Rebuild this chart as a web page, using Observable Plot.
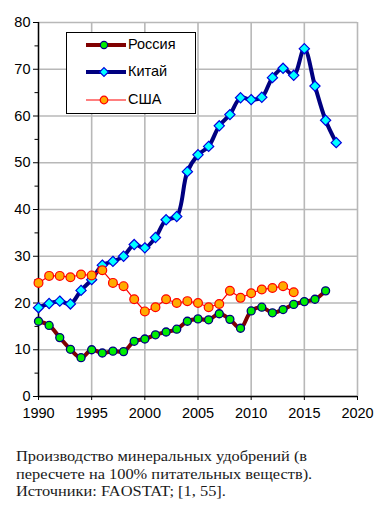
<!DOCTYPE html>
<html><head><meta charset="utf-8">
<script src="https://cdn.jsdelivr.net/npm/d3@7"></script>
<script src="https://cdn.jsdelivr.net/npm/@observablehq/plot@0.6"></script>
<style>
body{margin:0;background:#fff;width:391px;height:517px;overflow:hidden;position:relative;font-family:"Liberation Sans",Arial,sans-serif;}
#chart{position:absolute;left:0;top:0;}
#legend{position:absolute;left:66px;top:32px;width:128px;height:80px;border:1.5px solid #000;background:#fff;}
.row{position:absolute;left:0;height:20px;width:128px;}
.row svg{position:absolute;left:18px;top:0;}
.row span{position:absolute;left:61px;top:1px;font-size:14.5px;color:#000;}
#caption{position:absolute;left:16px;top:448px;font-family:"Liberation Serif","Times New Roman",serif;font-size:14.5px;line-height:17.6px;color:#1a1a1a;white-space:nowrap;transform:scaleX(1.13);transform-origin:0 0;}
</style></head>
<body>
<div id="chart"></div>
<div id="legend"></div>
<div id="caption">Производство минеральных удобрений (в<br>пересчете на 100% питательных веществ).<br>Источники: FAOSTAT; [1, 55].</div>
<script>
const russiaYears = d3.range(1990, 2018);
const russia = [16.1,15.2,12.6,10.1,8.3,10.0,9.3,9.7,9.6,11.8,12.3,13.2,13.8,14.4,16.1,16.6,16.4,17.7,16.5,14.6,18.3,19.1,17.9,18.6,19.7,20.3,20.8,22.6];
const chinaYears = d3.range(1990, 2019);
const china = [19.0,19.9,20.4,19.8,22.7,25.0,28.1,28.9,30.0,32.5,31.8,34.0,37.8,38.5,48.1,51.7,53.5,57.9,60.3,63.9,63.5,64.0,68.2,70.2,68.7,74.4,66.4,59.1,54.3];
const usaYears = d3.range(1990, 2015);
const usa = [24.3,25.8,25.8,25.5,26.1,25.9,27.0,24.3,23.6,20.8,18.2,19.1,20.8,20.0,20.4,20.0,19.1,19.8,22.6,21.1,22.1,22.9,23.2,23.6,22.3];
const seriesNames = ["Россия","Китай","США"];
const xTicks = [1990,1995,2000,2005,2010,2015,2020];
const yTicks = [0,10,20,30,40,50,60,70,80];
const yMinor = [5,15,25,35,45,55,65,75];

const R = russiaYears.map((x,i)=>({x, y: russia[i]}));
const C = chinaYears.map((x,i)=>({x, y: china[i]}));
const U = usaYears.map((x,i)=>({x, y: usa[i]}));

const styles = {
  "Россия": {line:"#800000", lw:4, fill:"#00ee00", stroke:"#000080", symbol:"circle", r:3.6},
  "Китай": {line:"#000080", lw:4, fill:"#00ffff", stroke:"#0000dd", symbol:"diamond2", r:4},
  "США": {line:"#ff0000", lw:1.2, fill:"#ffaa00", stroke:"#ff0000", symbol:"circle", r:3.8}
};

const plot = Plot.plot({
  width: 391, height: 430,
  marginLeft: 38, marginRight: 34, marginTop: 22, marginBottom: 34,
  style: {fontFamily: '"Liberation Sans", Arial, sans-serif', fontSize: "14px", color: "#000", background: "#fff"},
  x: {domain: [1990, 2020]},
  y: {domain: [0, 80]},
  marks: [
    Plot.gridX(xTicks, {stroke: "#b8b8b8", strokeOpacity: 1, strokeWidth: 1.6}),
    Plot.gridY(yTicks, {stroke: "#b8b8b8", strokeOpacity: 1, strokeWidth: 1.6}),
    Plot.axisY(yMinor, {tickSize: 3.5, tickFormat: () => "", stroke: "#000", label: null}),
    Plot.axisY(yTicks, {tickSize: 5, tickPadding: 3, stroke: "#000", label: null, fontSize: 14.5}),
    Plot.axisX(xTicks, {tickSize: 4, tickPadding: 7, tickFormat: d => String(d), stroke: "#000", label: null, fontSize: 14.5}),
    Plot.ruleX([1990], {stroke: "#000", strokeWidth: 1.4}),
    Plot.ruleY([0], {stroke: "#000", strokeWidth: 1.4}),
    Plot.line(R, {x: "x", y: "y", stroke: styles["Россия"].line, strokeWidth: 4, curve: "catmull-rom"}),
    Plot.dot(R, {x: "x", y: "y", r: 4, fill: styles["Россия"].fill, stroke: styles["Россия"].stroke, strokeWidth: 1.3}),
    Plot.line(C, {x: "x", y: "y", stroke: styles["Китай"].line, strokeWidth: 4, curve: "catmull-rom"}),
    Plot.dot(C, {x: "x", y: "y", r: 4.6, symbol: "diamond2", fill: styles["Китай"].fill, stroke: styles["Китай"].stroke, strokeWidth: 1.2}),
    Plot.line(U, {x: "x", y: "y", stroke: styles["США"].line, strokeWidth: 1.2}),
    Plot.dot(U, {x: "x", y: "y", r: 4.4, fill: styles["США"].fill, stroke: styles["США"].stroke, strokeWidth: 1.2})
  ]
});
document.getElementById("chart").appendChild(plot);

// legend
const leg = document.getElementById("legend");
const rowTops = [2, 29, 57];
seriesNames.forEach((name, i) => {
  const s = styles[name];
  const row = document.createElement("div");
  row.className = "row";
  row.style.top = rowTops[i] + "px";
  const svg = d3.create("svg").attr("width", 42).attr("height", 20);
  svg.append("line").attr("x1", 1).attr("x2", 41).attr("y1", 10).attr("y2", 10)
    .attr("stroke", s.line).attr("stroke-width", s.lw);
  const sym = d3.symbol(s.symbol === "diamond2" ? d3.symbolDiamond2 : d3.symbolCircle, Math.PI * s.r * s.r);
  svg.append("path").attr("d", sym()).attr("transform", "translate(19,10)")
    .attr("fill", s.fill).attr("stroke", s.stroke).attr("stroke-width", 1.2);
  row.appendChild(svg.node());
  const sp = document.createElement("span");
  sp.textContent = name;
  row.appendChild(sp);
  leg.appendChild(row);
});
</script>
</body></html>
